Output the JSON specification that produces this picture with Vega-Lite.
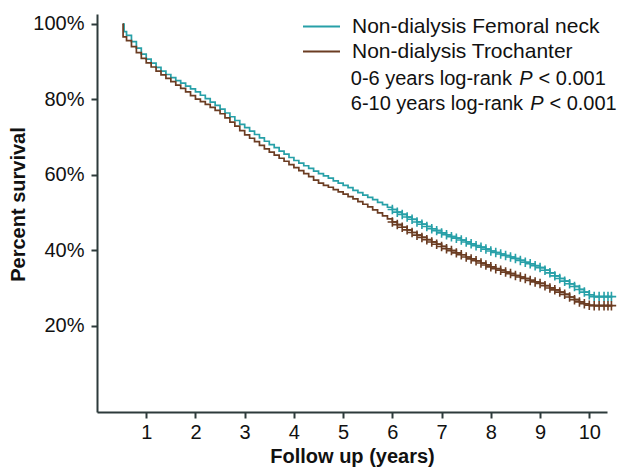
{
  "$schema": "https://vega.github.io/schema/vega-lite/v6.json",
  "width": 510,
  "height": 398,
  "autosize": {"type": "none"},
  "padding": {"left": 97, "top": 14, "right": 27, "bottom": 58},
  "background": "white",
  "config": {
    "view": {"stroke": null},
    "font": "Liberation Sans",
    "axis": {
      "grid": false,
      "domainColor": "#2d3a3b",
      "domainWidth": 2,
      "tickColor": "#2d3a3b",
      "tickWidth": 2,
      "tickSize": 6,
      "labelFont": "Liberation Sans",
      "labelFontSize": 20,
      "labelColor": "#111111",
      "titleFont": "Liberation Sans",
      "titleFontSize": 20,
      "titleFontWeight": "bold",
      "titleColor": "#111111"
    }
  },
  "datasets": {
    "km": [
      {"g": "Femoral neck", "t": 0.52, "s": 100, "c": 0},
      {"g": "Femoral neck", "t": 0.55, "s": 98.0, "c": 0},
      {"g": "Femoral neck", "t": 0.6, "s": 97.0, "c": 0},
      {"g": "Femoral neck", "t": 0.7, "s": 95.3, "c": 0},
      {"g": "Femoral neck", "t": 0.8, "s": 93.6, "c": 0},
      {"g": "Femoral neck", "t": 0.9, "s": 92.0, "c": 0},
      {"g": "Femoral neck", "t": 1.0, "s": 90.7, "c": 0},
      {"g": "Femoral neck", "t": 1.1, "s": 89.6, "c": 0},
      {"g": "Femoral neck", "t": 1.2, "s": 88.5, "c": 0},
      {"g": "Femoral neck", "t": 1.3, "s": 87.5, "c": 0},
      {"g": "Femoral neck", "t": 1.4, "s": 86.6, "c": 0},
      {"g": "Femoral neck", "t": 1.5, "s": 85.8, "c": 0},
      {"g": "Femoral neck", "t": 1.6, "s": 85.0, "c": 0},
      {"g": "Femoral neck", "t": 1.7, "s": 84.3, "c": 0},
      {"g": "Femoral neck", "t": 1.8, "s": 83.5, "c": 0},
      {"g": "Femoral neck", "t": 1.9, "s": 82.8, "c": 0},
      {"g": "Femoral neck", "t": 2.0, "s": 82.0, "c": 0},
      {"g": "Femoral neck", "t": 2.1, "s": 81.1, "c": 0},
      {"g": "Femoral neck", "t": 2.2, "s": 80.2, "c": 0},
      {"g": "Femoral neck", "t": 2.3, "s": 79.3, "c": 0},
      {"g": "Femoral neck", "t": 2.4, "s": 78.4, "c": 0},
      {"g": "Femoral neck", "t": 2.5, "s": 77.4, "c": 0},
      {"g": "Femoral neck", "t": 2.6, "s": 76.4, "c": 0},
      {"g": "Femoral neck", "t": 2.7, "s": 75.4, "c": 0},
      {"g": "Femoral neck", "t": 2.8, "s": 74.4, "c": 0},
      {"g": "Femoral neck", "t": 2.9, "s": 73.4, "c": 0},
      {"g": "Femoral neck", "t": 3.0, "s": 72.5, "c": 0},
      {"g": "Femoral neck", "t": 3.1, "s": 71.6, "c": 0},
      {"g": "Femoral neck", "t": 3.2, "s": 70.7, "c": 0},
      {"g": "Femoral neck", "t": 3.3, "s": 69.8, "c": 0},
      {"g": "Femoral neck", "t": 3.4, "s": 68.9, "c": 0},
      {"g": "Femoral neck", "t": 3.5, "s": 68.0, "c": 0},
      {"g": "Femoral neck", "t": 3.6, "s": 67.2, "c": 0},
      {"g": "Femoral neck", "t": 3.7, "s": 66.3, "c": 0},
      {"g": "Femoral neck", "t": 3.8, "s": 65.5, "c": 0},
      {"g": "Femoral neck", "t": 3.9, "s": 64.6, "c": 0},
      {"g": "Femoral neck", "t": 4.0, "s": 63.8, "c": 0},
      {"g": "Femoral neck", "t": 4.1, "s": 63.1, "c": 0},
      {"g": "Femoral neck", "t": 4.2, "s": 62.4, "c": 0},
      {"g": "Femoral neck", "t": 4.3, "s": 61.7, "c": 0},
      {"g": "Femoral neck", "t": 4.4, "s": 61.0, "c": 0},
      {"g": "Femoral neck", "t": 4.5, "s": 60.3, "c": 0},
      {"g": "Femoral neck", "t": 4.6, "s": 59.7, "c": 0},
      {"g": "Femoral neck", "t": 4.7, "s": 59.1, "c": 0},
      {"g": "Femoral neck", "t": 4.8, "s": 58.4, "c": 0},
      {"g": "Femoral neck", "t": 4.9, "s": 57.8, "c": 0},
      {"g": "Femoral neck", "t": 5.0, "s": 57.2, "c": 0},
      {"g": "Femoral neck", "t": 5.1, "s": 56.6, "c": 0},
      {"g": "Femoral neck", "t": 5.2, "s": 55.9, "c": 0},
      {"g": "Femoral neck", "t": 5.3, "s": 55.3, "c": 0},
      {"g": "Femoral neck", "t": 5.4, "s": 54.6, "c": 0},
      {"g": "Femoral neck", "t": 5.5, "s": 54.0, "c": 0},
      {"g": "Femoral neck", "t": 5.6, "s": 53.4, "c": 0},
      {"g": "Femoral neck", "t": 5.7, "s": 52.7, "c": 0},
      {"g": "Femoral neck", "t": 5.8, "s": 52.1, "c": 0},
      {"g": "Femoral neck", "t": 5.9, "s": 51.4, "c": 0},
      {"g": "Femoral neck", "t": 6.0, "s": 50.8, "c": 1},
      {"g": "Femoral neck", "t": 6.1, "s": 50.1, "c": 1},
      {"g": "Femoral neck", "t": 6.2, "s": 49.5, "c": 1},
      {"g": "Femoral neck", "t": 6.3, "s": 48.8, "c": 1},
      {"g": "Femoral neck", "t": 6.4, "s": 48.2, "c": 1},
      {"g": "Femoral neck", "t": 6.5, "s": 47.5, "c": 1},
      {"g": "Femoral neck", "t": 6.6, "s": 46.9, "c": 1},
      {"g": "Femoral neck", "t": 6.7, "s": 46.3, "c": 1},
      {"g": "Femoral neck", "t": 6.8, "s": 45.7, "c": 1},
      {"g": "Femoral neck", "t": 6.9, "s": 45.2, "c": 1},
      {"g": "Femoral neck", "t": 7.0, "s": 44.6, "c": 1},
      {"g": "Femoral neck", "t": 7.1, "s": 44.1, "c": 1},
      {"g": "Femoral neck", "t": 7.2, "s": 43.6, "c": 1},
      {"g": "Femoral neck", "t": 7.3, "s": 43.2, "c": 1},
      {"g": "Femoral neck", "t": 7.4, "s": 42.7, "c": 1},
      {"g": "Femoral neck", "t": 7.5, "s": 42.2, "c": 1},
      {"g": "Femoral neck", "t": 7.6, "s": 41.7, "c": 1},
      {"g": "Femoral neck", "t": 7.7, "s": 41.2, "c": 1},
      {"g": "Femoral neck", "t": 7.8, "s": 40.8, "c": 1},
      {"g": "Femoral neck", "t": 7.9, "s": 40.3, "c": 1},
      {"g": "Femoral neck", "t": 8.0, "s": 39.8, "c": 1},
      {"g": "Femoral neck", "t": 8.1, "s": 39.4, "c": 1},
      {"g": "Femoral neck", "t": 8.2, "s": 39.0, "c": 1},
      {"g": "Femoral neck", "t": 8.3, "s": 38.6, "c": 1},
      {"g": "Femoral neck", "t": 8.4, "s": 38.2, "c": 1},
      {"g": "Femoral neck", "t": 8.5, "s": 37.8, "c": 1},
      {"g": "Femoral neck", "t": 8.6, "s": 37.3, "c": 1},
      {"g": "Femoral neck", "t": 8.7, "s": 36.8, "c": 1},
      {"g": "Femoral neck", "t": 8.8, "s": 36.4, "c": 1},
      {"g": "Femoral neck", "t": 8.9, "s": 35.9, "c": 1},
      {"g": "Femoral neck", "t": 9.0, "s": 35.4, "c": 1},
      {"g": "Femoral neck", "t": 9.1, "s": 34.7, "c": 1},
      {"g": "Femoral neck", "t": 9.2, "s": 34.0, "c": 1},
      {"g": "Femoral neck", "t": 9.3, "s": 33.2, "c": 1},
      {"g": "Femoral neck", "t": 9.4, "s": 32.5, "c": 1},
      {"g": "Femoral neck", "t": 9.5, "s": 31.8, "c": 1},
      {"g": "Femoral neck", "t": 9.6, "s": 31.1, "c": 1},
      {"g": "Femoral neck", "t": 9.7, "s": 30.4, "c": 1},
      {"g": "Femoral neck", "t": 9.8, "s": 29.6, "c": 1},
      {"g": "Femoral neck", "t": 9.9, "s": 28.9, "c": 1},
      {"g": "Femoral neck", "t": 10.0, "s": 28.2, "c": 1},
      {"g": "Femoral neck", "t": 10.1, "s": 27.7, "c": 1},
      {"g": "Femoral neck", "t": 10.2, "s": 27.7, "c": 1},
      {"g": "Femoral neck", "t": 10.3, "s": 27.7, "c": 1},
      {"g": "Femoral neck", "t": 10.38, "s": 27.7, "c": 1},
      {"g": "Femoral neck", "t": 10.45, "s": 27.7, "c": 1},
      {"g": "Trochanter", "t": 0.52, "s": 100, "c": 0},
      {"g": "Trochanter", "t": 0.53, "s": 96.6, "c": 0},
      {"g": "Trochanter", "t": 0.6, "s": 95.6, "c": 0},
      {"g": "Trochanter", "t": 0.7, "s": 94.0, "c": 0},
      {"g": "Trochanter", "t": 0.8, "s": 92.4, "c": 0},
      {"g": "Trochanter", "t": 0.9, "s": 90.9, "c": 0},
      {"g": "Trochanter", "t": 1.0, "s": 89.7, "c": 0},
      {"g": "Trochanter", "t": 1.1, "s": 88.6, "c": 0},
      {"g": "Trochanter", "t": 1.2, "s": 87.5, "c": 0},
      {"g": "Trochanter", "t": 1.3, "s": 86.5, "c": 0},
      {"g": "Trochanter", "t": 1.4, "s": 85.6, "c": 0},
      {"g": "Trochanter", "t": 1.5, "s": 84.7, "c": 0},
      {"g": "Trochanter", "t": 1.6, "s": 83.8, "c": 0},
      {"g": "Trochanter", "t": 1.7, "s": 82.9, "c": 0},
      {"g": "Trochanter", "t": 1.8, "s": 82.0, "c": 0},
      {"g": "Trochanter", "t": 1.9, "s": 81.0, "c": 0},
      {"g": "Trochanter", "t": 2.0, "s": 80.1, "c": 0},
      {"g": "Trochanter", "t": 2.1, "s": 79.4, "c": 0},
      {"g": "Trochanter", "t": 2.2, "s": 78.7, "c": 0},
      {"g": "Trochanter", "t": 2.3, "s": 77.9, "c": 0},
      {"g": "Trochanter", "t": 2.4, "s": 77.1, "c": 0},
      {"g": "Trochanter", "t": 2.5, "s": 76.2, "c": 0},
      {"g": "Trochanter", "t": 2.6, "s": 75.1, "c": 0},
      {"g": "Trochanter", "t": 2.7, "s": 74.0, "c": 0},
      {"g": "Trochanter", "t": 2.8, "s": 72.9, "c": 0},
      {"g": "Trochanter", "t": 2.9, "s": 71.7, "c": 0},
      {"g": "Trochanter", "t": 3.0, "s": 70.6, "c": 0},
      {"g": "Trochanter", "t": 3.1, "s": 69.7, "c": 0},
      {"g": "Trochanter", "t": 3.2, "s": 68.8, "c": 0},
      {"g": "Trochanter", "t": 3.3, "s": 67.8, "c": 0},
      {"g": "Trochanter", "t": 3.4, "s": 66.9, "c": 0},
      {"g": "Trochanter", "t": 3.5, "s": 66.0, "c": 0},
      {"g": "Trochanter", "t": 3.6, "s": 65.2, "c": 0},
      {"g": "Trochanter", "t": 3.7, "s": 64.4, "c": 0},
      {"g": "Trochanter", "t": 3.8, "s": 63.6, "c": 0},
      {"g": "Trochanter", "t": 3.9, "s": 62.7, "c": 0},
      {"g": "Trochanter", "t": 4.0, "s": 61.9, "c": 0},
      {"g": "Trochanter", "t": 4.1, "s": 61.1, "c": 0},
      {"g": "Trochanter", "t": 4.2, "s": 60.3, "c": 0},
      {"g": "Trochanter", "t": 4.3, "s": 59.5, "c": 0},
      {"g": "Trochanter", "t": 4.4, "s": 58.6, "c": 0},
      {"g": "Trochanter", "t": 4.5, "s": 57.8, "c": 0},
      {"g": "Trochanter", "t": 4.6, "s": 57.2, "c": 0},
      {"g": "Trochanter", "t": 4.7, "s": 56.7, "c": 0},
      {"g": "Trochanter", "t": 4.8, "s": 56.1, "c": 0},
      {"g": "Trochanter", "t": 4.9, "s": 55.5, "c": 0},
      {"g": "Trochanter", "t": 5.0, "s": 54.9, "c": 0},
      {"g": "Trochanter", "t": 5.1, "s": 54.2, "c": 0},
      {"g": "Trochanter", "t": 5.2, "s": 53.6, "c": 0},
      {"g": "Trochanter", "t": 5.3, "s": 52.9, "c": 0},
      {"g": "Trochanter", "t": 5.4, "s": 52.2, "c": 0},
      {"g": "Trochanter", "t": 5.5, "s": 51.5, "c": 0},
      {"g": "Trochanter", "t": 5.6, "s": 50.7, "c": 0},
      {"g": "Trochanter", "t": 5.7, "s": 49.9, "c": 0},
      {"g": "Trochanter", "t": 5.8, "s": 49.1, "c": 0},
      {"g": "Trochanter", "t": 5.9, "s": 48.3, "c": 0},
      {"g": "Trochanter", "t": 6.0, "s": 47.5, "c": 1},
      {"g": "Trochanter", "t": 6.1, "s": 46.8, "c": 1},
      {"g": "Trochanter", "t": 6.2, "s": 46.1, "c": 1},
      {"g": "Trochanter", "t": 6.3, "s": 45.4, "c": 1},
      {"g": "Trochanter", "t": 6.4, "s": 44.7, "c": 1},
      {"g": "Trochanter", "t": 6.5, "s": 44.0, "c": 1},
      {"g": "Trochanter", "t": 6.6, "s": 43.4, "c": 1},
      {"g": "Trochanter", "t": 6.7, "s": 42.8, "c": 1},
      {"g": "Trochanter", "t": 6.8, "s": 42.2, "c": 1},
      {"g": "Trochanter", "t": 6.9, "s": 41.6, "c": 1},
      {"g": "Trochanter", "t": 7.0, "s": 41.0, "c": 1},
      {"g": "Trochanter", "t": 7.1, "s": 40.4, "c": 1},
      {"g": "Trochanter", "t": 7.2, "s": 39.9, "c": 1},
      {"g": "Trochanter", "t": 7.3, "s": 39.3, "c": 1},
      {"g": "Trochanter", "t": 7.4, "s": 38.8, "c": 1},
      {"g": "Trochanter", "t": 7.5, "s": 38.2, "c": 1},
      {"g": "Trochanter", "t": 7.6, "s": 37.7, "c": 1},
      {"g": "Trochanter", "t": 7.7, "s": 37.2, "c": 1},
      {"g": "Trochanter", "t": 7.8, "s": 36.6, "c": 1},
      {"g": "Trochanter", "t": 7.9, "s": 36.1, "c": 1},
      {"g": "Trochanter", "t": 8.0, "s": 35.6, "c": 1},
      {"g": "Trochanter", "t": 8.1, "s": 35.1, "c": 1},
      {"g": "Trochanter", "t": 8.2, "s": 34.7, "c": 1},
      {"g": "Trochanter", "t": 8.3, "s": 34.2, "c": 1},
      {"g": "Trochanter", "t": 8.4, "s": 33.8, "c": 1},
      {"g": "Trochanter", "t": 8.5, "s": 33.3, "c": 1},
      {"g": "Trochanter", "t": 8.6, "s": 32.9, "c": 1},
      {"g": "Trochanter", "t": 8.7, "s": 32.5, "c": 1},
      {"g": "Trochanter", "t": 8.8, "s": 32.0, "c": 1},
      {"g": "Trochanter", "t": 8.9, "s": 31.6, "c": 1},
      {"g": "Trochanter", "t": 9.0, "s": 31.2, "c": 1},
      {"g": "Trochanter", "t": 9.1, "s": 30.6, "c": 1},
      {"g": "Trochanter", "t": 9.2, "s": 30.0, "c": 1},
      {"g": "Trochanter", "t": 9.3, "s": 29.5, "c": 1},
      {"g": "Trochanter", "t": 9.4, "s": 28.9, "c": 1},
      {"g": "Trochanter", "t": 9.5, "s": 28.3, "c": 1},
      {"g": "Trochanter", "t": 9.6, "s": 27.6, "c": 1},
      {"g": "Trochanter", "t": 9.7, "s": 26.9, "c": 1},
      {"g": "Trochanter", "t": 9.8, "s": 26.3, "c": 1},
      {"g": "Trochanter", "t": 9.9, "s": 25.8, "c": 1},
      {"g": "Trochanter", "t": 10.0, "s": 25.4, "c": 1},
      {"g": "Trochanter", "t": 10.1, "s": 25.3, "c": 1},
      {"g": "Trochanter", "t": 10.2, "s": 25.3, "c": 1},
      {"g": "Trochanter", "t": 10.3, "s": 25.3, "c": 1},
      {"g": "Trochanter", "t": 10.38, "s": 25.3, "c": 1},
      {"g": "Trochanter", "t": 10.45, "s": 25.3, "c": 1}
    ],
    "notes": [
      {"line": "0-6", "label": "0-6 years log-rank", "p": "P", "v": "< 0.001"},
      {"line": "6-10", "label": "6-10 years log-rank", "p": "P", "v": "< 0.001"}
    ]
  },
  "data": {"name": "km"},
  "layer": [
    {
      "mark": {"type": "line", "interpolate": "step-after", "strokeWidth": 1.7},
      "encoding": {
        "x": {
          "field": "t",
          "type": "quantitative",
          "scale": {"domain": [0, 10.36], "nice": false, "zero": false},
          "axis": {
            "values": [1, 2, 3, 4, 5, 6, 7, 8, 9, 10],
            "format": "d",
            "labelPadding": 4,
            "title": "Follow up (years)",
            "titlePadding": 4
          }
        },
        "y": {
          "field": "s",
          "type": "quantitative",
          "scale": {"domain": [-2.9, 102.65], "nice": false, "zero": false},
          "axis": {
            "values": [20, 40, 60, 80, 100],
            "labelExpr": "datum.value + '%'",
            "labelPadding": 7,
            "title": "Percent survival",
            "titlePadding": 4,
            "titleY": 190
          }
        },
        "color": {
          "field": "g",
          "type": "nominal",
          "scale": {"domain": ["Femoral neck", "Trochanter"], "range": ["#27a0a8", "#6b3c22"]},
          "legend": {
            "orient": "none",
            "legendX": 205,
            "legendY": 0,
            "title": null,
            "symbolType": "stroke",
            "symbolSize": 1369,
            "symbolStrokeWidth": 2,
            "clipHeight": 25,
            "rowPadding": 0,
            "labelOffset": 11,
            "labelFont": "Liberation Sans",
            "labelFontSize": 21,
            "labelColor": "#111111",
            "labelLimit": 400,
            "labelExpr": "'Non-dialysis ' + datum.label"
          }
        }
      }
    },
    {
      "transform": [{"filter": "datum.c == 1"}],
      "mark": {"type": "point", "shape": "M0,-1V1M-1,0H1", "size": 90, "filled": false, "strokeWidth": 1.6, "opacity": 1},
      "encoding": {
        "x": {"field": "t", "type": "quantitative"},
        "y": {"field": "s", "type": "quantitative"},
        "stroke": {
          "field": "g",
          "type": "nominal",
          "scale": {"domain": ["Femoral neck", "Trochanter"], "range": ["#27a0a8", "#6b3c22"]},
          "legend": null
        }
      }
    },
    {
      "data": {"name": "notes"},
      "transform": [{"filter": "datum.line == '0-6'"}],
      "layer": [
        {
          "mark": {"type": "text", "align": "left", "baseline": "middle", "font": "Liberation Sans", "fontSize": 20, "color": "#111111"},
          "encoding": {"x": {"datum": 5.155}, "y": {"datum": 85.5}, "text": {"field": "label"}}
        },
        {
          "mark": {"type": "text", "align": "left", "baseline": "middle", "font": "Liberation Sans", "fontSize": 20, "fontStyle": "italic", "color": "#111111"},
          "encoding": {"x": {"datum": 8.58}, "y": {"datum": 85.5}, "text": {"field": "p"}}
        },
        {
          "mark": {"type": "text", "align": "left", "baseline": "middle", "font": "Liberation Sans", "fontSize": 20, "color": "#111111"},
          "encoding": {"x": {"datum": 8.97}, "y": {"datum": 85.5}, "text": {"field": "v"}}
        }
      ]
    },
    {
      "data": {"name": "notes"},
      "transform": [{"filter": "datum.line == '6-10'"}],
      "layer": [
        {
          "mark": {"type": "text", "align": "left", "baseline": "middle", "font": "Liberation Sans", "fontSize": 20, "color": "#111111"},
          "encoding": {"x": {"datum": 5.155}, "y": {"datum": 78.9}, "text": {"field": "label"}}
        },
        {
          "mark": {"type": "text", "align": "left", "baseline": "middle", "font": "Liberation Sans", "fontSize": 20, "fontStyle": "italic", "color": "#111111"},
          "encoding": {"x": {"datum": 8.8}, "y": {"datum": 78.9}, "text": {"field": "p"}}
        },
        {
          "mark": {"type": "text", "align": "left", "baseline": "middle", "font": "Liberation Sans", "fontSize": 20, "color": "#111111"},
          "encoding": {"x": {"datum": 9.19}, "y": {"datum": 78.9}, "text": {"field": "v"}}
        }
      ]
    }
  ]
}
